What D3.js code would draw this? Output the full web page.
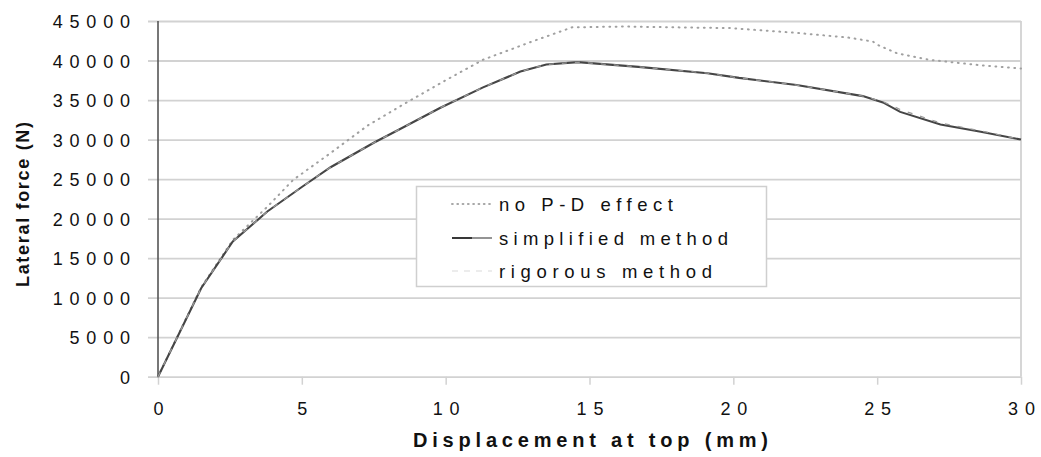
<!DOCTYPE html>
<html>
<head>
<meta charset="utf-8">
<script src="https://cdn.jsdelivr.net/npm/d3@7"></script>
<style>
  html, body { margin: 0; padding: 0; background: #fff; }
  svg { display: block; }
  text { font-family: "Liberation Sans", Arial, sans-serif; fill: #111; }
</style>
</head>
<body>
<svg id="chart" width="1041" height="457"></svg>
<script>
// ---- data ----
const xTicks = [0, 5, 10, 15, 20, 25, 30];
const yTicks = [0, 5000, 10000, 15000, 20000, 25000, 30000, 35000, 40000, 45000];

const noPDx = [0, 1.5, 2.6, 3.8, 4.7, 6.0, 7.3, 8.6, 10.0, 11.3, 13.0, 14.4, 16.2, 18.0, 19.9, 22.2, 24.0, 24.85, 25.0, 25.7, 26.8, 28.6, 30];
const noPDy = [0, 11300, 17300, 21500, 24900, 28300, 31800, 34600, 37500, 40100, 42400, 44200, 44300, 44200, 44100, 43500, 42900, 42400, 42000, 40900, 40100, 39400, 39000];

const simpX = [0, 1.5, 2.6, 3.8, 5.0, 6.0, 7.5, 8.4, 9.8, 11.3, 12.6, 13.5, 14.6, 16.7, 19.1, 20.2, 22.2, 24.5, 25.2, 25.8, 27.2, 28.6, 30];
const simpY = [0, 11200, 17100, 20900, 24000, 26500, 29600, 31300, 34000, 36600, 38600, 39500, 39800, 39200, 38400, 37800, 36900, 35500, 34700, 33500, 31900, 31000, 30000];

const rigX = [0, 1.5, 2.6, 3.8, 5.0, 6.0, 7.5, 8.4, 9.8, 11.3, 12.6, 13.5, 14.6, 16.7, 19.1, 20.2, 22.2, 24.5, 25.2, 25.8, 27.2, 28.6, 30];
const rigY = [0, 11200, 17100, 20900, 24000, 26500, 29600, 31300, 34000, 36600, 38600, 39500, 39800, 39200, 38400, 37800, 36900, 35500, 34800, 33800, 32100, 31100, 30000];

const seriesNames = ["no P-D effect", "simplified method", "rigorous method"];
const xTitle = "Displacement at top (mm)";
const yTitle = "Lateral force (N)";

// ---- layout ----
const svg = d3.select("#chart");
const x = d3.scaleLinear().domain([0, 30]).range([158, 1021]);
const y = d3.scaleLinear().domain([0, 45000]).range([376.7, 21]);

const gridColor = "#d2d2d2";

// gridlines + y tick labels
const yAxis = d3.axisLeft(y).tickValues(yTicks).tickSize(-(x.range()[1] - 148)).tickFormat(d3.format("d"));
const gy = svg.append("g").attr("transform", "translate(148,0)").call(yAxis);
gy.select(".domain").remove();
gy.selectAll(".tick line").attr("stroke", gridColor).attr("stroke-width", 1.8);
const tickLS = 6.8;
gy.selectAll(".tick text")
  .attr("font-size", 18)
  .style("letter-spacing", tickLS + "px")
  .attr("text-anchor", "end")
  .attr("x", -18 + tickLS)
  .attr("dy", "0.36em")
  .attr("fill", "#111");

// x ticks + labels
const xAxis = d3.axisBottom(x).tickValues(xTicks).tickSize(8).tickFormat(d3.format("d"));
const gx = svg.append("g").attr("transform", `translate(0,${y(0)})`).call(xAxis);
gx.select(".domain").remove();
gx.selectAll(".tick line").attr("stroke", gridColor).attr("stroke-width", 1.5);
gx.selectAll(".tick text")
  .attr("font-size", 18)
  .style("letter-spacing", tickLS + "px")
  .attr("text-anchor", "middle")
  .attr("dx", tickLS / 2)
  .attr("y", 38.5)
  .attr("dy", 0)
  .attr("fill", "#111");

// right border
svg.append("line")
  .attr("x1", x(30)).attr("x2", x(30))
  .attr("y1", y(45000)).attr("y2", y(0))
  .attr("stroke", gridColor).attr("stroke-width", 1.8);

// y axis line
svg.append("line")
  .attr("x1", x(0)).attr("x2", x(0))
  .attr("y1", y(45000)).attr("y2", y(0))
  .attr("stroke", "#555").attr("stroke-width", 1.6);

// legend box
const legend = svg.append("g");
legend.append("rect")
  .attr("x", 416.5).attr("y", 186.5).attr("width", 350).attr("height", 100)
  .attr("fill", "#fff").attr("stroke", "#cfcfcf").attr("stroke-width", 1.5);

// lines
const line = d3.line().x(d => x(d[0])).y(d => y(d[1]));
const zip = (a, b) => a.map((v, i) => [v, b[i]]);

svg.append("path").datum(zip(noPDx, noPDy))
  .attr("d", line).attr("fill", "none")
  .attr("stroke", "#a0a0a0").attr("stroke-width", 2)
  .attr("stroke-dasharray", "0.8,5.5").attr("stroke-linecap", "round");

svg.append("path").datum(zip(simpX, simpY))
  .attr("d", line).attr("fill", "none")
  .attr("stroke", "#454545").attr("stroke-width", 2.1);

svg.append("path").datum(zip(rigX, rigY))
  .attr("d", line).attr("fill", "none")
  .attr("stroke", "#999").attr("stroke-width", 1.3)
  .attr("stroke-dasharray", "5,8");

// legend entries
const legY = [204, 238, 271];
const legTargets = [174, 229, 213];
legend.append("line").attr("x1", 452).attr("x2", 492).attr("y1", legY[0]).attr("y2", legY[0])
  .attr("stroke", "#a8a8a8").attr("stroke-width", 2).attr("stroke-dasharray", "0.8,4.5").attr("stroke-linecap", "round");
legend.append("line").attr("x1", 452).attr("x2", 472).attr("y1", legY[1]).attr("y2", legY[1])
  .attr("stroke", "#222").attr("stroke-width", 1.8);
legend.append("line").attr("x1", 472).attr("x2", 492).attr("y1", legY[1]).attr("y2", legY[1])
  .attr("stroke", "#888").attr("stroke-width", 1.8);
legend.append("line").attr("x1", 452).attr("x2", 492).attr("y1", legY[2]).attr("y2", legY[2])
  .attr("stroke", "#ececec").attr("stroke-width", 1.8).attr("stroke-dasharray", "6,6");

function fitSpacing(node, target) {
  node.style.letterSpacing = "0px";
  const n = node.textContent.length;
  const w = node.getComputedTextLength();
  const ls = (target - w) / (n - 1);
  node.style.letterSpacing = ls + "px";
  return ls;
}

seriesNames.forEach((name, i) => {
  const t = legend.append("text")
    .attr("x", 499).attr("y", legY[i] + 7)
    .attr("font-size", 18.5)
    .text(name);
  fitSpacing(t.node(), legTargets[i]);
});

// axis titles
const xt = svg.append("text")
  .attr("x", 413).attr("y", 447)
  .attr("font-size", 20).attr("font-weight", "bold")
  .text(xTitle);
fitSpacing(xt.node(), 355);

const yt = svg.append("text")
  .attr("transform", "translate(29,287) rotate(-90)")
  .attr("x", 0).attr("y", 0)
  .attr("font-size", 18).attr("font-weight", "bold")
  .text(yTitle);
fitSpacing(yt.node(), 165);
</script>
</body>
</html>
